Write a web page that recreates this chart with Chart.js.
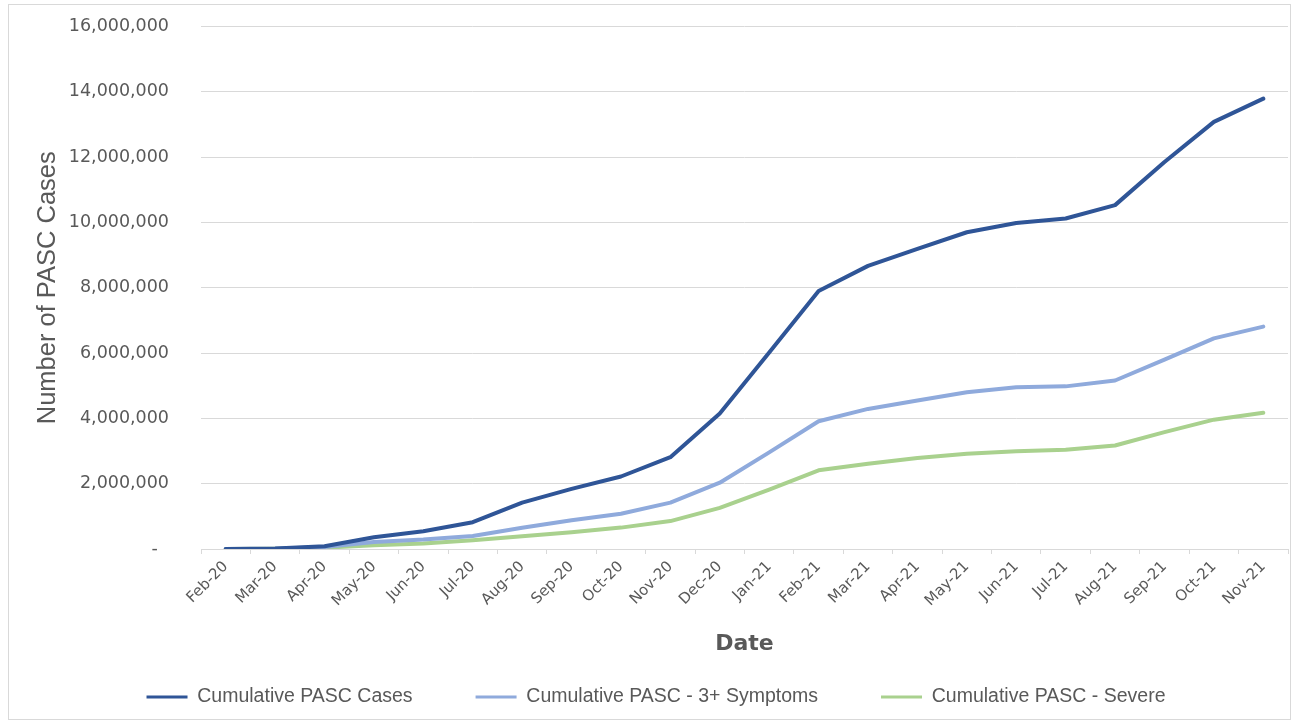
<!DOCTYPE html>
<html>
<head>
<meta charset="utf-8">
<title>Cumulative PASC Cases</title>
<script src="https://cdn.jsdelivr.net/npm/chart.js@4.4.1/dist/chart.umd.min.js"></script>
<style>
    html, body { margin: 0; padding: 0; background: #ffffff; }
    #wrap { position: relative; width: 1293px; height: 724px; }
    #frame {
        position: absolute; left: 8px; top: 4px; width: 1281px; height: 714px;
        border: 1px solid #d9d9d9; pointer-events: none;
    }
</style>
</head>
<body>
<div id="wrap">
    <canvas id="chartPasc"></canvas>
    <div id="frame"></div>
</div>
<script>
// data (month, cumulative counts)
const months = ["Feb-20", "Mar-20", "Apr-20", "May-20", "Jun-20", "Jul-20", "Aug-20", "Sep-20",
    "Oct-20", "Nov-20", "Dec-20", "Jan-21", "Feb-21", "Mar-21", "Apr-21", "May-21", "Jun-21",
    "Jul-21", "Aug-21", "Sep-21", "Oct-21", "Nov-21"];

const pascCases = [0, 15000, 82000, 360000, 545000, 820000, 1420000, 1840000, 2220000, 2810000,
    4150000, 6020000, 7900000, 8670000, 9190000, 9700000, 9980000, 10120000, 10530000,
    11850000, 13080000, 13790000];

const pascSymptoms = [0, 10000, 60000, 215000, 290000, 400000, 650000, 880000, 1080000, 1420000,
    2030000, 2960000, 3910000, 4290000, 4550000, 4800000, 4950000, 4980000, 5160000,
    5800000, 6450000, 6810000];

const pascSevere = [0, 5000, 40000, 115000, 165000, 265000, 390000, 510000, 655000, 855000,
    1260000, 1820000, 2410000, 2610000, 2790000, 2920000, 2990000, 3040000, 3170000,
    3580000, 3960000, 4170000];

const yTickValues = [0, 2000000, 4000000, 6000000, 8000000, 10000000, 12000000, 14000000, 16000000];

const textGray = "#595959";
const gridGray = "#d9d9d9";

document.addEventListener("DOMContentLoaded", function () {
    const canvas = document.getElementById("chartPasc");
    canvas.width = 1293;
    canvas.height = 724;

    const defaultLabels = Chart.defaults.plugins.legend.labels.generateLabels;

    new Chart(canvas.getContext("2d"), {
        type: "line",
        data: {
            labels: months,
            datasets: [
                {
                    label: "Cumulative PASC Cases",
                    data: pascCases,
                    borderColor: "#2f5597",
                    backgroundColor: "#2f5597"
                },
                {
                    label: "Cumulative PASC - 3+ Symptoms",
                    data: pascSymptoms,
                    borderColor: "#8faadc",
                    backgroundColor: "#8faadc"
                },
                {
                    label: "Cumulative PASC - Severe",
                    data: pascSevere,
                    borderColor: "#a9d18e",
                    backgroundColor: "#a9d18e"
                }
            ]
        },
        options: {
            responsive: false,
            animation: false,
            layout: {
                padding: { left: 24, right: 5, top: 10, bottom: 7.25 }
            },
            elements: {
                line: { borderWidth: 4, tension: 0, borderCapStyle: "round", borderJoinStyle: "round" },
                point: { radius: 0, hoverRadius: 0 }
            },
            scales: {
                x: {
                    type: "category",
                    offset: true,
                    grid: {
                        offset: true,
                        drawOnChartArea: false,
                        drawTicks: true,
                        tickLength: 5,
                        color: gridGray
                    },
                    border: { display: true, color: gridGray, width: 1 },
                    ticks: {
                        autoSkip: false,
                        minRotation: 45,
                        maxRotation: 45,
                        padding: 4,
                        color: textGray,
                        font: { family: "'DejaVu Sans', Verdana, sans-serif", size: 15 }
                    },
                    title: {
                        display: true,
                        text: "Date",
                        color: textGray,
                        font: { family: "'DejaVu Sans', Verdana, sans-serif", size: 22, weight: "bold" },
                        padding: { top: 0, bottom: -33.5 }
                    },
                    afterFit: function (scale) {
                        scale.height = 75.25;
                    }
                },
                y: {
                    min: 0,
                    max: 16000000,
                    afterBuildTicks: function (scale) {
                        scale.ticks = yTickValues.map(v => ({ value: v }));
                    },
                    grid: {
                        color: gridGray,
                        lineWidth: 1,
                        drawTicks: true,
                        tickLength: 16,
                        tickColor: "rgba(0,0,0,0)"
                    },
                    border: { display: false },
                    ticks: {
                        padding: 16,
                        color: textGray,
                        font: { family: "'DejaVu Sans', Verdana, sans-serif", size: 17.5 },
                        callback: function (value) {
                            if (value === 0) return "-  ";
                            return value.toLocaleString("en-US");
                        }
                    },
                    title: {
                        display: true,
                        text: "Number of PASC Cases",
                        color: textGray,
                        font: { family: "'Liberation Sans', Arial, sans-serif", size: 25.5 },
                        padding: { top: 9, bottom: 0 }
                    },
                    afterFit: function (scale) {
                        scale.width = 177;
                    }
                }
            },
            plugins: {
                legend: {
                    position: "bottom",
                    labels: {
                        boxWidth: 41,
                        boxHeight: 3,
                        padding: 63,
                        color: textGray,
                        font: { family: "'Liberation Sans', Arial, sans-serif", size: 19.5 },
                        generateLabels: function (chart) {
                            return defaultLabels(chart).map(item => Object.assign(item, { lineWidth: 0 }));
                        }
                    }
                },
                tooltip: { enabled: false }
            }
        }
    });
});
</script>
</body>
</html>
